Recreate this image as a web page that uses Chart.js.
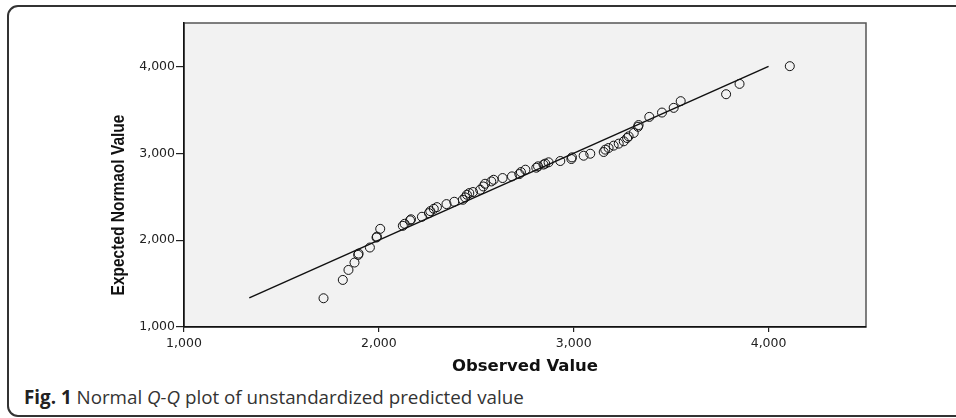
<!DOCTYPE html>
<html>
<head>
<meta charset="utf-8">
<script src="https://cdn.jsdelivr.net/npm/chart.js@4"></script>
<style>
  body { margin: 0; background: #fff; width: 956px; height: 418px; overflow: hidden; position: relative; }
  #frame { position: absolute; left: 7px; top: 5px; width: 1000px; height: 412px; box-sizing: border-box;
           border: 2px solid #333; border-radius: 11px; }
  #chart { position: absolute; left: 0; top: 0; }
  #caption { position: absolute; left: 24px; top: 387px; font-family: "Open Sans", sans-serif; font-size: 18.8px;
             line-height: 20px; color: #333; white-space: nowrap; }
  #caption b { color: #222; }
</style>
</head>
<body>
<div id="frame"></div>
<canvas id="chart" width="956" height="380"></canvas>
<div id="caption"><b>Fig. 1</b> Normal <i>Q-Q</i> plot of unstandardized predicted value</div>
<script>
// observed vs expected normal values
const observed = [1716, 1815, 1844, 1875, 1894, 1896, 1954, 1988, 1990, 2007, 2123, 2132, 2160, 2165, 2221, 2257,
  2264, 2282, 2298, 2347, 2387, 2431, 2443, 2452, 2464, 2483, 2520, 2536, 2545, 2577, 2589, 2635, 2683, 2721, 2729,
  2752, 2808, 2817, 2845, 2854, 2871, 2931, 2988, 2991, 3051, 3085, 3154, 3162, 3179, 3205, 3231, 3257, 3274, 3282,
  3308, 3330, 3333, 3388, 3453, 3513, 3549, 3782, 3851, 4109];
const expected = [1331, 1542, 1657, 1742, 1830, 1845, 1915, 2030, 2040, 2130, 2165, 2188, 2228, 2240, 2269, 2311,
  2334, 2361, 2380, 2415, 2442, 2465, 2492, 2523, 2542, 2554, 2580, 2618, 2649, 2676, 2695, 2715, 2734, 2761, 2784,
  2811, 2834, 2850, 2870, 2881, 2896, 2911, 2934, 2953, 2972, 2995, 3015, 3042, 3061, 3088, 3111, 3138, 3176, 3195,
  3234, 3305, 3325, 3419, 3469, 3523, 3600, 3680, 3799, 4003];

// reference line y = x
const lineX = [1335, 4000];
const lineY = [1335, 4000];

const xTickValues = [1000, 2000, 3000, 4000];
const xTickLabels = ['1,000', '2,000', '3,000', '4,000'];
const yTickValues = [1000, 2000, 3000, 4000];
const yTickLabels = ['1,000', '2,000', '3,000', '4,000'];

const axisMin = 1000;
const axisMax = 4500;

const tickFont = { family: 'DejaVu Sans', size: 12.5 };

// grey plot box with a frame round it
const plotBox = {
  id: 'plotBox',
  beforeDraw(chart) {
    const { ctx, chartArea: a } = chart;
    ctx.save();
    ctx.fillStyle = '#f2f2f2';
    ctx.fillRect(a.left, a.top, a.right - a.left, a.bottom - a.top);
    ctx.strokeStyle = '#555';
    ctx.lineWidth = 1.5;
    ctx.strokeRect(a.left, a.top, a.right - a.left, a.bottom - a.top);
    ctx.restore();
  },
  afterDraw(chart) {
    // y title sits a bit lower than the middle of the axis, glyphs a little wide like the original
    const ctx = chart.ctx;
    ctx.save();
    ctx.translate(119, 205);
    ctx.rotate(-Math.PI / 2);
    ctx.scale(1, 1.2);
    ctx.font = 'bold 15.5px "Liberation Sans"';
    ctx.fillStyle = '#111';
    ctx.textAlign = 'center';
    ctx.textBaseline = 'middle';
    ctx.fillText('Expected Normaol Value', 0, 0);
    ctx.restore();
  }
};

const points = observed.map((v, i) => ({ x: v, y: expected[i] }));
const refLine = lineX.map((v, i) => ({ x: v, y: lineY[i] }));

new Chart(document.getElementById('chart'), {
  type: 'scatter',
  data: {
    datasets: [
      {
        data: refLine,
        showLine: true,
        borderColor: '#111',
        borderWidth: 1.5,
        pointRadius: 0,
        fill: false
      },
      {
        data: points,
        pointStyle: 'circle',
        pointRadius: 4.5,
        borderColor: '#111',
        borderWidth: 1,
        backgroundColor: 'rgba(0,0,0,0)'
      }
    ]
  },
  options: {
    responsive: false,
    animation: false,
    devicePixelRatio: 1,
    layout: { padding: { left: 105, top: 23, right: 90, bottom: 0 } },
    plugins: { legend: { display: false }, tooltip: { enabled: false } },
    scales: {
      x: {
        type: 'linear',
        min: axisMin,
        max: axisMax,
        afterBuildTicks: s => { s.ticks = xTickValues.map(v => ({ value: v })); },
        afterFit: s => { s.height = 53; },
        ticks: {
          callback: v => xTickLabels[xTickValues.indexOf(v)],
          font: tickFont,
          color: '#222',
          padding: 4,
          maxRotation: 0,
          autoSkip: false
        },
        grid: { display: true, drawOnChartArea: false, drawTicks: true, tickLength: 5, color: '#222', lineWidth: 1.2 },
        border: { display: true, color: '#111', width: 1.5 },
        title: {
          display: true,
          text: 'Observed Value',
          color: '#111',
          font: { family: 'DejaVu Sans', weight: 'bold', size: 16.5 },
          padding: { top: 0, bottom: 3 }
        }
      },
      y: {
        type: 'linear',
        min: axisMin,
        max: axisMax,
        afterBuildTicks: s => { s.ticks = yTickValues.map(v => ({ value: v })); },
        afterFit: s => { s.width = 79; },
        ticks: {
          callback: v => yTickLabels[yTickValues.indexOf(v)],
          font: tickFont,
          color: '#222',
          padding: 1
        },
        grid: { display: true, drawOnChartArea: false, drawTicks: true, tickLength: 8, color: '#222', lineWidth: 1.2 },
        border: { display: true, color: '#111', width: 1.5 }
      }
    }
  },
  plugins: [plotBox]
});
</script>
</body>
</html>
